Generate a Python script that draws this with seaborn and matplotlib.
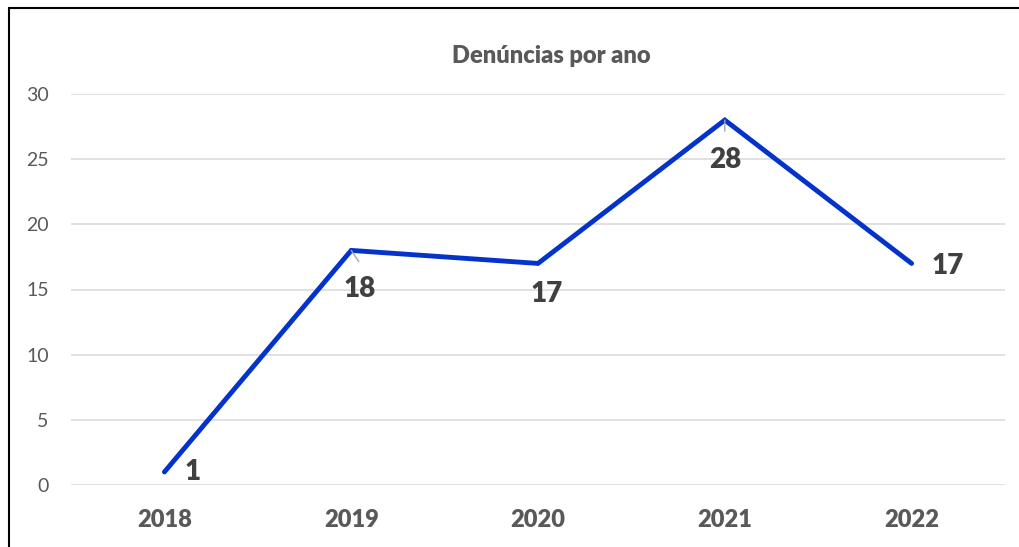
import matplotlib
matplotlib.use("Agg")
import matplotlib.pyplot as plt
import seaborn as sns
import pandas as pd
from matplotlib.patches import Rectangle

# data
years = ["2018", "2019", "2020", "2021", "2022"]
denuncias = [1, 18, 17, 28, 17]
y_ticks = [0, 5, 10, 15, 20, 25, 30]

# label placement (offset in points) and whether a leader line is drawn
label_offsets = [(20, 0), (6, -28), (6, -22), (0, -28.5), (26, -2)]
label_leader = [False, True, False, True, False]

sns.set_theme(style="white")
plt.rcParams["font.family"] = ["Lato", "DejaVu Sans"]

df = pd.DataFrame({"ano": years, "denuncias": denuncias})

fig = plt.figure(figsize=(10.2, 5.47), dpi=100)
ax = fig.add_axes([71 / 1020, 62 / 547, 934 / 1020, 391 / 547])

sns.lineplot(data=df, x="ano", y="denuncias", ax=ax, color="#0433CC",
             linewidth=3.5, solid_capstyle="round", solid_joinstyle="miter")

ax.set_xlim(-0.5, len(years) - 0.5)
ax.set_ylim(0, 30)
ax.set_yticks(y_ticks)
ax.yaxis.grid(True, color="#D9D9D9", linewidth=1.1)
ax.xaxis.grid(False)
ax.set_axisbelow(True)
for s in ax.spines.values():
    s.set_visible(False)
ax.set_xlabel("")
ax.set_ylabel("")
ax.tick_params(axis="y", length=0, pad=16, labelsize=14, labelcolor="#595959")
ax.tick_params(axis="x", length=0, pad=17, labelsize=17, labelcolor="#595959")
for t in ax.get_xticklabels():
    t.set_fontweight("heavy")

for i, (yr, v) in enumerate(zip(years, denuncias)):
    dx, dy = label_offsets[i]
    ax.annotate(str(v), xy=(i, v), xytext=(dx, dy), textcoords="offset points",
                ha="center", va="center", fontsize=20, fontweight="heavy",
                color="#404040")
    if label_leader[i]:
        ax.annotate("", xy=(i, v), xytext=(dx * 0.9, -8), textcoords="offset points",
                    arrowprops=dict(arrowstyle="-", color="#A6A6A6", lw=1, shrinkA=0, shrinkB=0))

fig.text(551 / 1020, 1 - 56 / 547, "Denúncias por ano", ha="center", va="center",
         fontsize=17, fontweight="heavy", color="#595959")

# outer border of the chart frame
fig.patches.append(Rectangle((9.5 / 1020, -0.05), 1.1, 1 - 7.5 / 547 + 0.05,
                             transform=fig.transFigure, fill=False,
                             edgecolor="black", linewidth=1.5))

fig.savefig("out.png", dpi=100)
